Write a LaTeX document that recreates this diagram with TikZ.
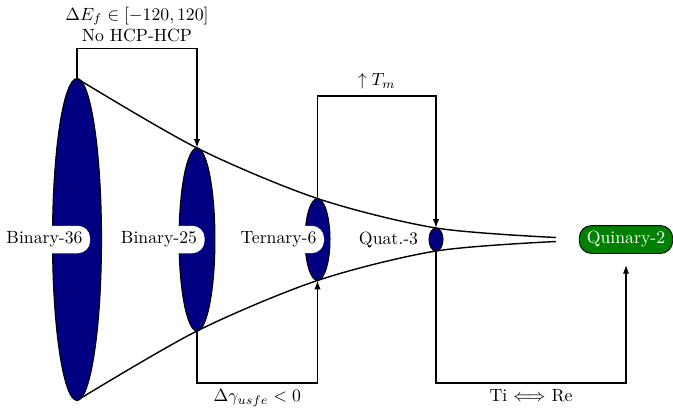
\documentclass[tikz,border=0pt]{standalone}
\usetikzlibrary{arrows.meta,shapes.geometric}
\definecolor{navyb}{rgb}{0,0,0.5}
\definecolor{darkg}{rgb}{0,0.5,0}
\begin{document}
\begin{tikzpicture}[x=0.565pt,y=-0.565pt,
  blob/.style={ellipse, draw=black, fill=navyb, line width=0.6pt, inner sep=0pt, outer sep=0pt},
  lab/.style={fill=white, rounded corners=7pt, inner xsep=4.3pt, inner ysep=3.33pt},
  final/.style={lab, fill=darkg, draw=black, text=white, line width=0.5pt},
  conn/.style={line width=0.8pt, -{Latex[length=5pt,width=3.6pt]}},
  funnel/.style={line width=0.8pt},
  ann/.style={align=center, inner sep=3.33pt}]
\useasboundingbox (0,0) rectangle (673,410);
% ellipses
\node[blob, minimum width=27.7pt, minimum height=181.9pt] (e1) at (77,239.5) {};
\node[blob, minimum width=20.3pt, minimum height=103.4pt] (e2) at (197,239.5) {};
\node[blob, minimum width=14.1pt, minimum height=46.3pt] (e3) at (317.5,239.5) {};
\node[blob, minimum width=7.9pt, minimum height=13pt] (e4) at (436,239.5) {};
% funnel
\coordinate (endT) at (556,237.5);
\coordinate (endB) at (556,241.5);
\draw[funnel] plot[smooth] coordinates {(e1.north) (e2.north) (e3.north) (e4.north) (endT)};
\draw[funnel] plot[smooth] coordinates {(e1.south) (e2.south) (e3.south) (e4.south) (endB)};
% labels
\node[lab] (l1) at (44.5,239.5) {Binary-36};
\node[lab] (l2) at (159,239.5) {Binary-25};
\node[lab] (l3) at (278.5,239.5) {Ternary-6};
\node[lab] (l4) at (388.5,239.5) {Quat.-3};
\node[final] (q) at (626,239.5) {Quinary-2};
% rails
\coordinate (r1) at (0,48.5);
\coordinate (r2) at (0,383);
\coordinate (r3) at (0,96);
% connectors
\draw[conn] (e1.north) -- (e1.north |- r1) -| (e2.north)
  node[pos=0.25, above, ann] {$\Delta E_f \in [-120, 120]$\\No HCP-HCP};
\draw[conn] (e2.south) -- (e2.south |- r2) -| (e3.south)
  node[pos=0.25, below, ann] {$\Delta\gamma_{usfe} < 0$};
\draw[conn] (e3.north) -- (e3.north |- r3) -| (e4.north)
  node[pos=0.25, above, ann] {$\uparrow T_m$};
\draw[conn, shorten >=6.2pt] (e4.south) -- (e4.south |- r2) -| (q.south)
  node[pos=0.25, below, ann] {Ti $\Longleftrightarrow$ Re};
\end{tikzpicture}
\end{document}
